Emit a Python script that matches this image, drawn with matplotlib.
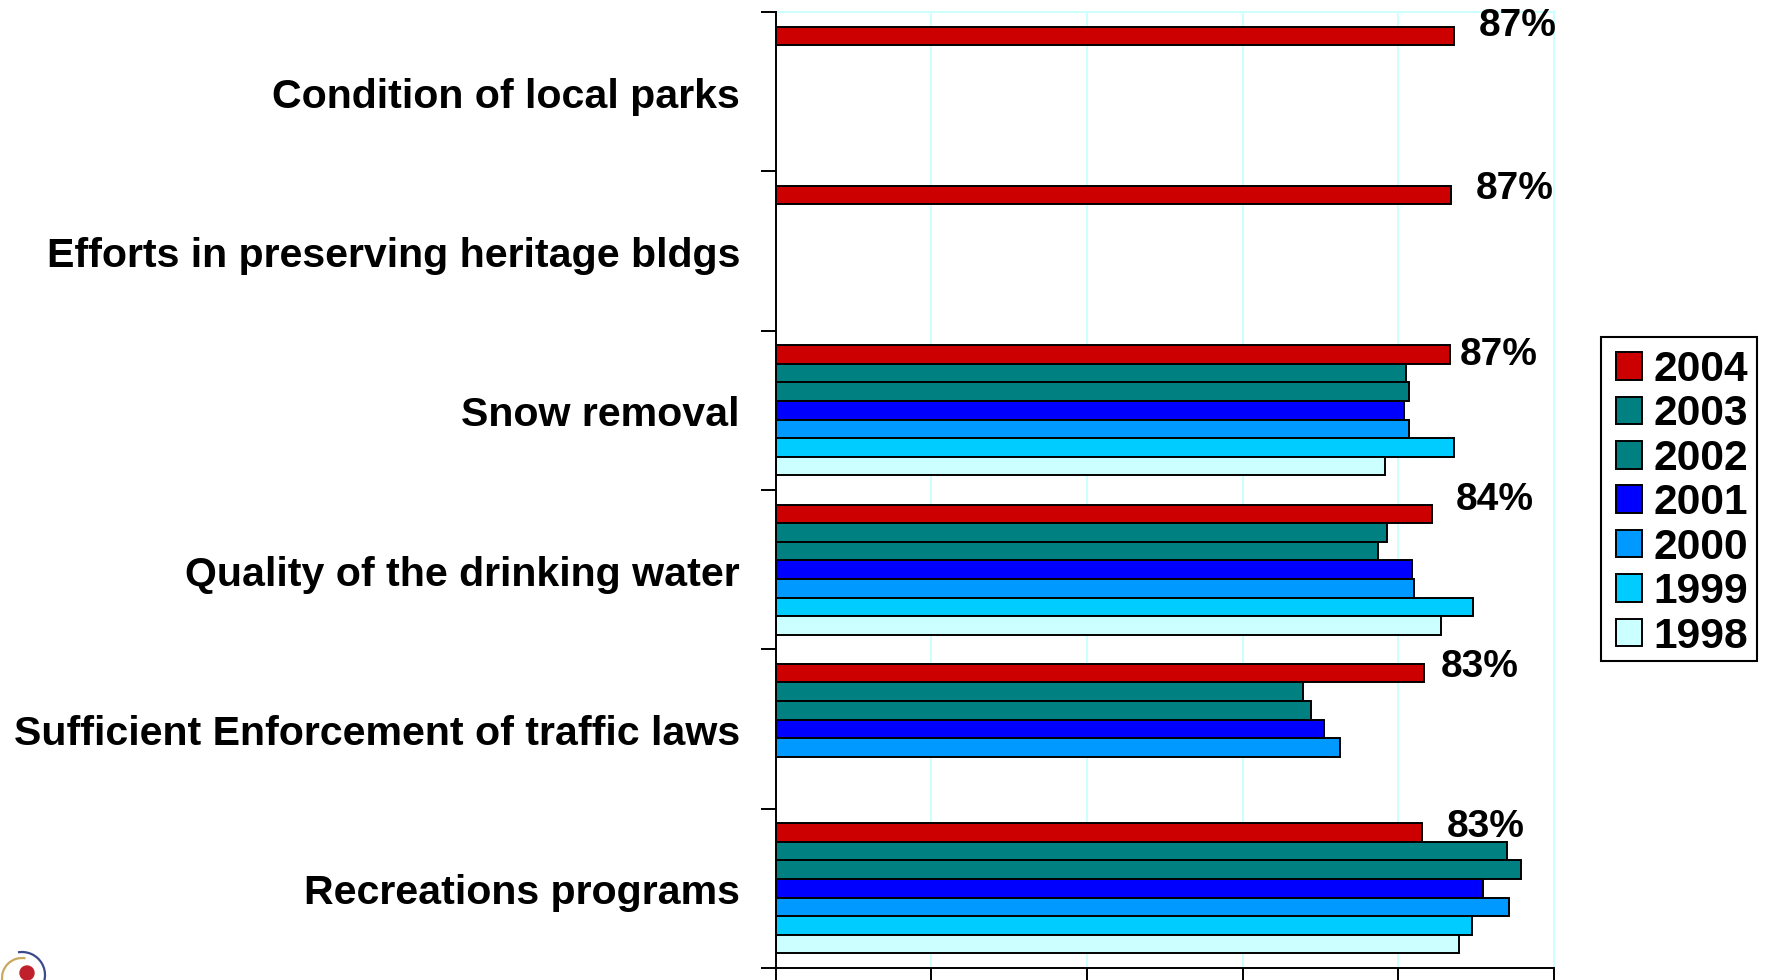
#!/usr/bin/env python3
"""Satisfaction with municipal services, 1998-2004, horizontal grouped bars."""
import matplotlib
matplotlib.use("Agg")
import matplotlib.pyplot as plt
import numpy as np
from matplotlib.patches import Arc, Circle, Rectangle
from matplotlib.transforms import IdentityTransform

W, H = 1768, 980
plt.rcParams["font.family"] = ["Liberation Sans", "DejaVu Sans"]
plt.rcParams["font.weight"] = "bold"

# ── Data ──────────────────────────────────────────────────────────────────────
categories = [
    "Condition of local parks",
    "Efforts in preserving heritage bldgs",
    "Snow removal",
    "Quality of the drinking water",
    "Sufficient Enforcement of traffic laws",
    "Recreations programs",
]
years = ["2004", "2003", "2002", "2001", "2000", "1999", "1998"]
nan = float("nan")
v2004 = [87.1, 86.8, 86.7, 84.3, 83.3, 83.0]
v2003 = [nan, nan, 81.0, 78.6, 67.8, 93.9]
v2002 = [nan, nan, 81.4, 77.4, 68.8, 95.7]
v2001 = [nan, nan, 80.7, 81.7, 70.4, 90.9]
v2000 = [nan, nan, 81.4, 82.0, 72.5, 94.2]
v1999 = [nan, nan, 87.1, 89.6, nan, 89.4]
v1998 = [nan, nan, 78.3, 85.5, nan, 87.8]
series = [v2004, v2003, v2002, v2001, v2000, v1999, v1998]
labels = ["87%", "87%", "87%", "84%", "83%", "83%"]
x_ticks = [0, 20, 40, 60, 80, 100]

colors = ["#CC0000", "#008080", "#008080", "#0000FF", "#0099FF", "#00CCFF", "#CCFFFF"]
CYAN = "#CCFFFF"
# hand-placed data labels in the original, pixels from the end of the 2004 bar
label_dx = [25, 24, 9, 24, 17, 25]
label_dy = [10, 6, 0, 14, 6, 6]

# ── Plot ──────────────────────────────────────────────────────────────────────
fig = plt.figure(figsize=(W / 100, H / 100), dpi=100)
ax = fig.add_axes([775.8 / W, 1 - 968 / H, (1554 - 775.8) / W, (968 - 12) / H])

bar_h = 18.6 / 159.3
y = np.arange(len(categories))
for i, (vals, col, year) in enumerate(zip(series, colors, years)):
    ax.barh(y + (i - 3) * bar_h, vals, height=bar_h, color=col, edgecolor="black",
            linewidth=1.4, label=year, zorder=3)

ax.set_xlim(0, 100)
ax.set_ylim(len(categories) - 0.5, -0.5)
ax.set_xticks(x_ticks)
ax.set_xticklabels([])
ax.set_yticks(np.arange(len(categories) + 1) - 0.5)
ax.set_yticklabels([])
ax.set_yticks(y + 0.006, categories, minor=True)
ax.tick_params(axis="y", which="minor", length=0, pad=25.8, labelsize=29.6)
ax.tick_params(axis="both", which="major", length=10.8, width=1.4, color="black")

ax.xaxis.grid(True, color=CYAN, linewidth=1.4, zorder=0)
ax.set_axisbelow(True)
for side in ("top", "right"):
    ax.spines[side].set_color(CYAN)
    ax.spines[side].set_linewidth(1.4)
for side in ("left", "bottom"):
    ax.spines[side].set_color("black")
    ax.spines[side].set_linewidth(1.4)
    ax.spines[side].set_zorder(4)

for i, txt in enumerate(labels):
    ax.annotate(txt, xy=(v2004[i], y[i] - 3 * bar_h), xycoords="data",
                xytext=(label_dx[i] * 0.72, label_dy[i] * 0.72), textcoords="offset points",
                ha="left", va="center", fontsize=28, annotation_clip=False, zorder=5)

tr = IdentityTransform()

# legend box has uneven padding in the original, so the frame is drawn separately
fig.add_artist(Rectangle((1600.7, H - 660.7), 156, 323.7, facecolor="white", edgecolor="black",
                         linewidth=1.5, transform=tr))
leg = fig.legend(loc="upper left", bbox_to_anchor=(1600.7 / W, 1 - 334.5 / H),
                 bbox_transform=fig.transFigure, fontsize=30.6, frameon=False,
                 borderaxespad=0, handlelength=0.62, handleheight=0.62, handletextpad=0.27,
                 labelspacing=0.105, borderpad=0.36)

# logo cut off in the bottom-left corner
fig.add_artist(Arc((22, H - 975), 46, 46, theta1=-40, theta2=100, color="#3A4A8C", lw=1.6, transform=tr))
fig.add_artist(Arc((22, H - 978), 40, 40, theta1=80, theta2=190, color="#C9A860", lw=1.6, transform=tr))
fig.add_artist(Circle((27, H - 973), 7, color="#C0202C", transform=tr))

fig.savefig("out.png", dpi=100)
